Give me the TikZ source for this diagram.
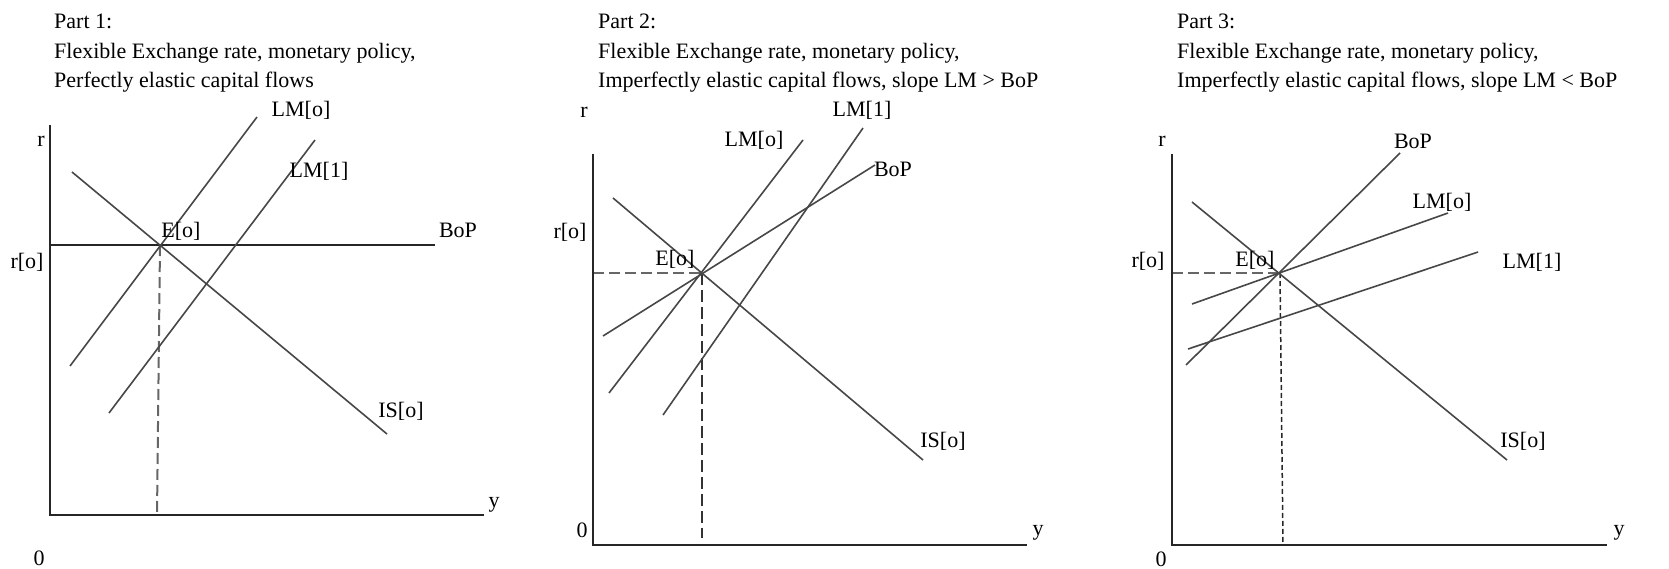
\documentclass[tikz,border=0pt]{standalone}
\usepackage{fontspec}
\setmainfont{Liberation Serif}
\begin{document}
\begin{tikzpicture}[x=1pt,y=-1pt,
  axis/.style={line width=2pt,black!85},
  curve/.style={line width=1.6pt,black!72},
  guide/.style={line width=2pt,black!60,dash pattern=on 11pt off 5pt},
  guidev/.style={line width=1.5pt,black!80,dash pattern=on 12pt off 5pt},
  guidefine/.style={line width=1.5pt,black!85,dash pattern=on 5pt off 3pt},
  lbl/.style={inner sep=0pt,font=\fontsize{22}{26}\selectfont},
  title/.style={inner sep=0pt,anchor=base west,font=\fontsize{22}{29}\selectfont}]
\useasboundingbox (0,0) rectangle (1669,568);

% ---------------- Part 1 ----------------
\node[title] (t1a) at (54,28) {Part 1:};
\node[title] (t1b) at (54,58) {Flexible Exchange rate, monetary policy,};
\node[title] (t1c) at (54,87) {Perfectly elastic capital flows};
\coordinate (O1) at (50,515);
\coordinate (Y1) at (50,125);
\coordinate (X1) at (484,515);
\coordinate (E1) at (160,245);
\coordinate (B1s) at (50,245);
\coordinate (B1e) at (435,245);
\coordinate (IS1s) at (72,172);
\coordinate (IS1e) at (387,434);
\coordinate (L01s) at (70,366);
\coordinate (L01e) at (257,117);
\coordinate (L11s) at (109,413);
\coordinate (L11e) at (315,140);
\coordinate (D1) at (157,515);
\draw[guide] (E1) -- (D1);
\draw[axis] (Y1) -- (O1) -- (X1);
\draw[axis] (B1s) -- (B1e);
\draw[curve] (IS1s) -- (IS1e);
\draw[curve] (L01s) -- (L01e);
\draw[curve] (L11s) -- (L11e);
\node[lbl] (r1) at (41,141) {r};
\node[lbl] (ro1) at (27,262) {r[o]};
\node[lbl] (z1) at (39,558) {0};
\node[lbl] (y1) at (494,505) {y};
\node[lbl] (bop1) at (458,230) {BoP};
\node[lbl] (e1) at (181,231) {E[o]};
\node[lbl] (is1) at (401,411) {IS[o]};
\node[lbl] (lm01) at (301,110) {LM[o]};
\node[lbl] (lm11) at (319,171) {LM[1]};

% ---------------- Part 2 ----------------
\node[title] (t2a) at (598,28) {Part 2:};
\node[title] (t2b) at (598,58) {Flexible Exchange rate, monetary policy,};
\node[title] (t2c) at (598,87) {Imperfectly elastic capital flows, slope LM > BoP};
\coordinate (O2) at (593,545);
\coordinate (Y2) at (593,154);
\coordinate (X2) at (1027,545);
\coordinate (E2) at (702,273);
\coordinate (H2) at (593,273);
\coordinate (D2) at (702,538);
\coordinate (IS2s) at (613,198);
\coordinate (IS2e) at (923,460);
\coordinate (L02s) at (609,393);
\coordinate (L02e) at (803,140);
\coordinate (L12s) at (663,415);
\coordinate (L12e) at (863,128);
\coordinate (B2s) at (603,336);
\coordinate (B2e) at (875,165);
\draw[guide] (H2) -- (E2);
\draw[guidev] (E2) -- (D2);
\draw[axis] (Y2) -- (O2) -- (X2);
\draw[curve] (IS2s) -- (IS2e);
\draw[curve] (L02s) -- (L02e);
\draw[curve] (L12s) -- (L12e);
\draw[curve] (B2s) -- (B2e);
\node[lbl] (r2) at (584,112) {r};
\node[lbl] (ro2) at (570,232) {r[o]};
\node[lbl] (z2) at (582,530) {0};
\node[lbl] (y2) at (1038,533) {y};
\node[lbl] (e2) at (675,259) {E[o]};
\node[lbl] (is2) at (943,441) {IS[o]};
\node[lbl] (lm02) at (754,140) {LM[o]};
\node[lbl] (lm12) at (862,110) {LM[1]};
\node[lbl] (bop2) at (893,169) {BoP};

% ---------------- Part 3 ----------------
\node[title] (t3a) at (1177,28) {Part 3:};
\node[title] (t3b) at (1177,58) {Flexible Exchange rate, monetary policy,};
\node[title] (t3c) at (1177,87) {Imperfectly elastic capital flows, slope LM < BoP};
\coordinate (O3) at (1172,545);
\coordinate (Y3) at (1172,154);
\coordinate (X3) at (1607,545);
\coordinate (E3) at (1280,273);
\coordinate (H3) at (1172,273);
\coordinate (D3) at (1283,545);
\coordinate (IS3s) at (1192,202);
\coordinate (IS3e) at (1507,460);
\coordinate (B3s) at (1186,365);
\coordinate (B3e) at (1400,153);
\coordinate (L03s) at (1192,304);
\coordinate (L03e) at (1448,213);
\coordinate (L13s) at (1188,349);
\coordinate (L13e) at (1478,252);
\draw[guide] (H3) -- (E3);
\draw[guidefine] (E3) -- (D3);
\draw[axis] (Y3) -- (O3) -- (X3);
\draw[curve] (IS3s) -- (IS3e);
\draw[curve] (B3s) -- (B3e);
\draw[curve] (L03s) -- (L03e);
\draw[curve] (L13s) -- (L13e);
\node[lbl] (r3) at (1162,141) {r};
\node[lbl] (ro3) at (1148,261) {r[o]};
\node[lbl] (z3) at (1161,559) {0};
\node[lbl] (y3) at (1619,533) {y};
\node[lbl] (e3) at (1255,260) {E[o]};
\node[lbl] (is3) at (1523,441) {IS[o]};
\node[lbl] (bop3) at (1413,141) {BoP};
\node[lbl] (lm03) at (1442,202) {LM[o]};
\node[lbl] (lm13) at (1532,262) {LM[1]};
\end{tikzpicture}
\end{document}
